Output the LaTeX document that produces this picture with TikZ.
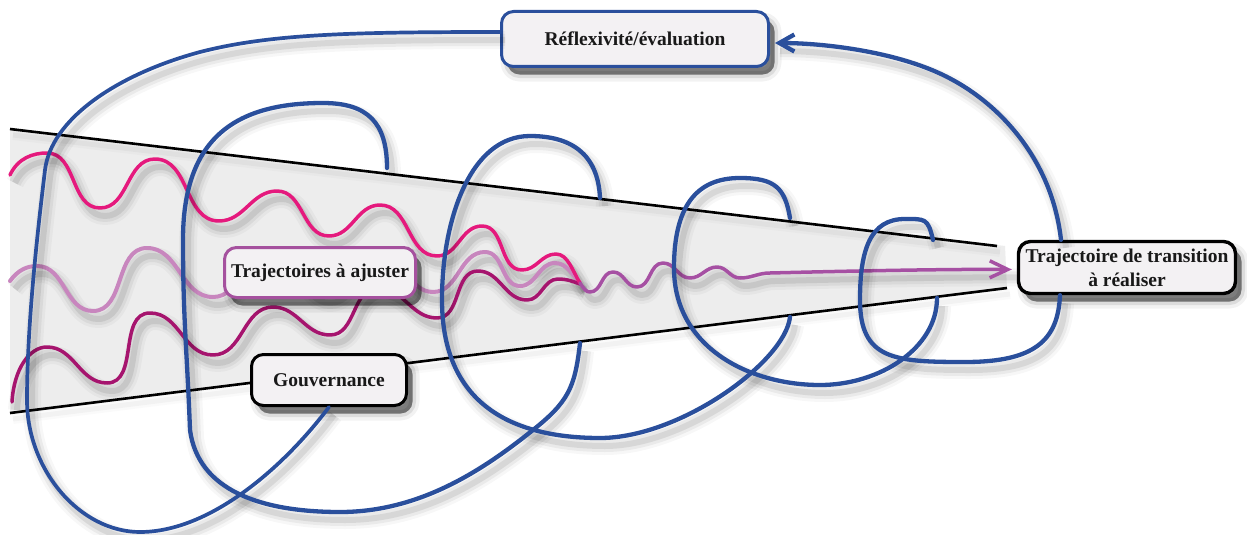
\documentclass[tikz,border=0pt]{standalone}
\usepackage{fontspec}
\setmainfont{Liberation Serif}
\usetikzlibrary{arrows.meta}
\definecolor{bl}{RGB}{42,79,156}
\definecolor{pinkA}{RGB}{229,25,125}
\definecolor{orch}{RGB}{200,134,190}
\definecolor{mag}{RGB}{166,20,110}
\definecolor{purp}{RGB}{166,80,163}
\definecolor{trajb}{RGB}{165,81,158}
\definecolor{boxf}{RGB}{243,241,243}
\definecolor{funf}{RGB}{237,237,237}
\tikzset{
 sh/.style={preaction={draw=black,line width=18pt,opacity=0.03,transform canvas={shift={(5pt,-8pt)}}},
   preaction={draw=black,line width=12pt,opacity=0.05,transform canvas={shift={(5pt,-8pt)}}},
   preaction={draw=black,line width=6pt,opacity=0.08,transform canvas={shift={(5pt,-8pt)}}}},
 shl/.style={preaction={draw=black,line width=10pt,opacity=0.02,transform canvas={shift={(3pt,-6pt)}}},
   preaction={draw=black,line width=5pt,opacity=0.03,transform canvas={shift={(3pt,-6pt)}}}},
 bline/.style={draw=bl,line width=4.3pt,line cap=round},
 wave/.style={line width=3.5pt,line cap=round},
 fline/.style={draw=black,line width=2.6pt},
 bsh/.style={preaction={fill=black,draw=black,line width=14pt,opacity=0.05,transform canvas={shift={(6pt,-8pt)}}},
   preaction={fill=black,draw=black,line width=7pt,opacity=0.09,transform canvas={shift={(6pt,-8pt)}}},
   preaction={fill=black,opacity=0.4,transform canvas={shift={(6pt,-8pt)}}}},
 lab/.style={rounded corners=12pt,fill=boxf,font=\fontsize{19.5}{24}\selectfont\bfseries,align=center,inner sep=3pt,line width=3pt,text=black!90,bsh}
}
\begin{document}
\begin{tikzpicture}[x=1pt,y=-1pt,line join=round,every to/.style={out=0,in=180}]
\useasboundingbox (0,0) rectangle (1247,535);
\fill[white] (0,0) rectangle (1247,535);
% funnel
\fill[funf] (10,129) -- (1005,246) -- (1007,289) -- (10,413) -- cycle;
\path[shl] (10,129) -- (997,246);
\path[shl] (10,413) -- (1007,288);
\draw[fline] (10,129) -- (997,246);
\draw[fline] (10,413) -- (1007,288);
% nodes
\node[lab,draw=bl,minimum width=267pt,minimum height=55pt] (refl) at (635,39) {Réflexivité/évaluation};
\node[lab,draw=black,minimum width=217pt,minimum height=52pt,line width=3.4pt] (trans) at (1127,267.5) {Trajectoire de transition\\à réaliser};
\coordinate (pT) at ([xshift=-5pt,yshift=-2pt]trans.west);
% waves
\def\wA{(10,175) .. controls (18,158) and (33,153) .. (47,153) to (100,208) to (155,159) to (219,221) to (277,191) to (329,236) to (380,205) to (437,256) to (482,226) to (522,270) to (556,254) .. controls (568,254) and (573,272) .. (580,283)}
\def\wB{(10,281) .. controls (18,270) and (27,266) .. (37,266) to (93,311) to (147,248) to (213,297) to (270,252) to (325,295) to (380,255) to (433,292) to (485,252) to (520,286) to (555,263) .. controls (567,263) and (573,276) .. (580,283)}
\def\wC{(12,402) .. controls (14,368) and (30,347) .. (47,347) to (107,383) to (150,313) to (213,355) to (273,307) to (330,335) to (378,288) to (437,318) to (478,271) to (527,300) to (558,279) .. controls (568,279) and (574,282) .. (580,284)}
\def\wM{(580,283) .. controls (584,289) and (586,292) .. (590,292) to (613,272) to (637,287) to (663,263) to (690,278) to (717,267) to (740,278) to (770,273) .. controls (850,271) and (950,269) .. (pT)}
\path[sh] \wB; \path[sh] \wC; \path[sh] \wA; \path[sh] \wM;
\draw[wave,orch,line width=4pt] \wB;
\draw[wave,mag] \wC;
\draw[wave,pinkA] \wA;
\draw[wave,purp,-{Straight Barb[length=18pt,width=17pt]}] \wM;
% inner labels
\node[lab,draw=trajb,minimum width=191pt,minimum height=50pt] (traj) at (320,272.5) {Trajectoires à ajuster};
\node[lab,draw=black,minimum width=155pt,minimum height=51pt] (gouv) at (329,380) {Gouvernance};
% blue coil
\coordinate (aS) at ([yshift=7pt]refl.west);
\coordinate (aE) at (gouv.south);
\coordinate (eS) at ([xshift=-67pt]trans.south);
\coordinate (eN) at ([xshift=-66pt]trans.north);
\coordinate (aR) at ([xshift=5pt,yshift=-4pt]refl.east);
\def\cA{(aS) .. controls +(-150,0) and +(70,-18) .. (200,52) .. controls +(-85,23) and +(6,-50) .. (45,170) .. controls +(-6,50) and +(0,-80) .. (27,400) .. controls +(0,70) and +(-60,0) .. (140,532) .. controls +(70,0) and +(-45,60) .. (aE)}
\def\cB{(387,168) .. controls +(0,-45) and +(45,0) .. (323,103) .. controls +(-90,0) and +(0,-100) .. (183,240) .. controls +(0,80) and +(-3,-80) .. (190,430) .. controls +(8,60) and +(-80,0) .. (340,512) .. controls +(80,0) and +(-50,40) .. (533,430) .. controls +(35,-28) and +(-5,45) .. (580,343)}
\def\cC{(600,198) .. controls +(-2,-45) and +(40,0) .. (530,136) .. controls +(-60,0) and +(0,-80) .. (442,300) .. controls +(0,110) and +(-80,0) .. (600,438) .. controls +(80,0) and +(-5,45) .. (790,317)}
\def\cD{(790,218) .. controls +(-5,-30) and +(35,0) .. (740,178) .. controls +(-45,0) and +(0,-60) .. (674,268) .. controls +(0,80) and +(-70,0) .. (820,385) .. controls +(60,0) and +(0,50) .. (937,298)}
\def\cE{(933,240) .. controls +(-5,-22) and +(20,0) .. (905,219) .. controls +(-35,0) and +(0,-50) .. (860,300) .. controls +(0,60) and +(-70,0) .. (965,362) .. controls +(70,0) and +(-2,45) .. (eS)}
\def\cF{(eN) .. controls +(-9,-80) and +(49,26) .. (951,79) .. controls +(-50,-27) and +(50,0) .. (aR)}
\path[sh] \cA; \path[sh] \cB; \path[sh] \cC; \path[sh] \cD; \path[sh] \cE; \path[sh] \cF;
\draw[bline,line width=3.7pt] \cA;
\draw[bline] \cB;
\draw[bline] \cC;
\draw[bline] \cD;
\draw[bline] \cE;
\draw[bline,-{Straight Barb[length=15pt,width=17pt]}] \cF;
\end{tikzpicture}
\end{document}
